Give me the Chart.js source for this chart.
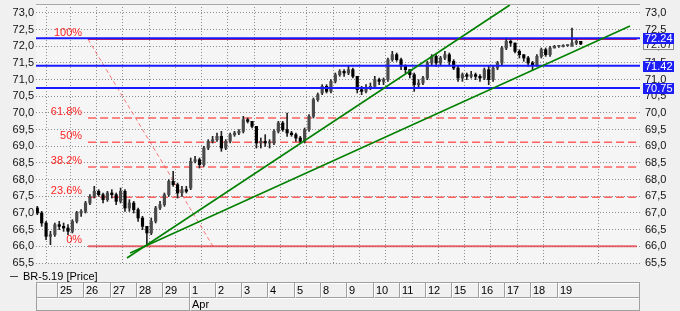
<!DOCTYPE html>
<html lang="en">
<head>
<meta charset="UTF-8" />
<title>BR-5.19</title>
<script src="https://cdn.jsdelivr.net/npm/chart.js"></script>
<style>
  html, body { margin: 0; padding: 0; background: #f0f0f0; }
  #wrap { width: 680px; height: 311px; position: relative; }
</style>
</head>
<body>
<div id="wrap"><canvas id="chart"></canvas></div>
<script>
const seriesName = "BR-5.19 [Price]";
const dayLabels = ["25", "26", "27", "28", "29", "1", "2", "3", "4", "5", "8", "9", "10", "11", "12", "15", "16", "17", "18", "19"];
const monthLabels = ["Apr"];
const monthStart = [5];
const yTicks = [65.5, 66, 66.5, 67, 67.5, 68, 68.5, 69, 69.5, 70, 70.5, 71, 71.5, 72, 72.5, 73];

// bars, 6 per day, first 5 belong to the partly shown day before the 25th
const open = [
  67.15, 67.0, 66.7, 66.3, 66.35,
  66.65, 66.6, 66.55, 66.45, 66.75, 67.0,
  67.05, 67.3, 67.5, 67.65, 67.55, 67.4,
  67.6, 67.55, 67.35, 67.65, 67.15, 67.3,
  67.1, 66.85, 66.6, 66.4, 66.75, 67.15,
  67.25, 67.55, 67.95, 67.85, 67.6, 67.7,
  67.75, 68.55, 68.6, 68.45, 68.95, 69.15,
  69.2, 69.3, 68.95, 69.15, 69.35, 69.4,
  69.45, 69.8, 69.75, 69.6, 69.1, 69.15,
  69.1, 69.1, 69.45, 69.7, 69.5, 69.4,
  69.35, 69.25, 69.15, 69.5, 69.9, 70.4,
  70.6, 70.8, 70.65, 70.95, 71.15, 71.25,
  71.2, 71.3, 71.1, 70.7, 70.65, 70.75,
  70.8, 71.0, 70.95, 71.0, 71.6, 71.75,
  71.6, 71.4, 71.3, 71.15, 70.85, 70.9,
  71.05, 71.5, 71.7, 71.5, 71.65, 71.75,
  71.55, 71.35, 71.05, 71.15, 71.1, 71.15,
  71.1, 71.05, 71.3, 71.0, 71.35, 71.5,
  71.95, 72.15, 72.1, 71.85, 71.75, 71.65,
  71.5, 71.45, 71.7, 71.9, 71.75, 71.95,
  72.0, 72.0, 72.02, 72.02, 72.1, 72.15
];
const high = [
  67.2, 67.05, 66.75, 66.45, 66.7,
  66.75, 66.7, 66.65, 66.8, 67.05, 67.1,
  67.35, 67.55, 67.8, 67.7, 67.6, 67.65,
  67.7, 67.6, 67.75, 67.7, 67.4, 67.35,
  67.15, 66.9, 66.6, 66.85, 67.2, 67.35,
  67.6, 68.0, 68.25, 67.9, 67.8, 67.8,
  68.65, 68.7, 68.65, 69.0, 69.2, 69.3,
  69.4, 69.45, 69.2, 69.4, 69.45, 69.5,
  69.9, 69.85, 69.75, 69.6, 69.25, 69.35,
  69.2, 69.5, 69.75, 69.75, 70.0, 69.45,
  69.4, 69.3, 69.55, 69.95, 70.45, 70.6,
  70.85, 70.85, 71.0, 71.2, 71.3, 71.3,
  71.4, 71.35, 71.1, 70.8, 70.85, 70.9,
  71.1, 71.05, 71.05, 71.65, 71.85, 71.8,
  71.65, 71.45, 71.3, 71.2, 71.0, 71.1,
  71.55, 71.75, 71.75, 71.7, 71.85, 71.8,
  71.6, 71.4, 71.2, 71.2, 71.25, 71.2,
  71.15, 71.35, 71.4, 71.4, 71.55, 72.0,
  72.25, 72.2, 72.1, 71.9, 71.75, 71.7,
  71.55, 71.75, 71.95, 71.95, 72.0, 72.03,
  72.03, 72.05, 72.05, 72.55, 72.2, 72.15
];
const low = [
  66.95, 66.6, 66.2, 66.05, 66.3,
  66.5, 66.45, 66.35, 66.4, 66.7, 66.9,
  67.0, 67.25, 67.45, 67.5, 67.3, 67.35,
  67.45, 67.25, 67.3, 67.05, 67.05, 67.0,
  66.75, 66.5, 66.02, 66.35, 66.7, 67.1,
  67.2, 67.5, 67.8, 67.45, 67.5, 67.6,
  67.7, 68.5, 68.35, 68.4, 68.9, 69.1,
  69.15, 68.85, 68.9, 69.1, 69.3, 69.35,
  69.4, 69.7, 69.55, 68.95, 68.95, 69.0,
  68.95, 69.05, 69.4, 69.45, 69.3, 69.3,
  69.15, 69.1, 69.1, 69.45, 69.85, 70.35,
  70.55, 70.6, 70.6, 70.9, 71.1, 71.1,
  71.15, 71.05, 70.6, 70.55, 70.6, 70.7,
  70.75, 70.85, 70.85, 70.95, 71.55, 71.55,
  71.3, 71.2, 71.05, 70.65, 70.75, 70.85,
  71.0, 71.45, 71.4, 71.45, 71.6, 71.45,
  71.3, 70.95, 70.95, 71.0, 71.05, 71.0,
  70.95, 71.0, 70.85, 70.95, 71.3, 71.45,
  71.9, 72.0, 71.8, 71.65, 71.55, 71.4,
  71.3, 71.4, 71.65, 71.7, 71.7, 71.95,
  71.97, 71.98, 72.0, 72.0, 72.05, 72.05
];
const close = [
  67.0, 66.7, 66.3, 66.35, 66.65,
  66.6, 66.55, 66.45, 66.75, 67.0, 67.05,
  67.3, 67.5, 67.65, 67.55, 67.4, 67.6,
  67.55, 67.35, 67.65, 67.15, 67.3, 67.1,
  66.85, 66.6, 66.4, 66.75, 67.15, 67.25,
  67.55, 67.95, 67.85, 67.6, 67.7, 67.65,
  68.55, 68.6, 68.45, 68.95, 69.15, 69.2,
  69.3, 68.95, 69.15, 69.35, 69.4, 69.45,
  69.8, 69.75, 69.6, 69.1, 69.15, 69.1,
  69.1, 69.45, 69.7, 69.5, 69.4, 69.35,
  69.25, 69.15, 69.5, 69.9, 70.4, 70.55,
  70.8, 70.65, 70.95, 71.15, 71.25, 71.2,
  71.3, 71.1, 70.7, 70.65, 70.75, 70.8,
  71.0, 70.95, 71.0, 71.6, 71.75, 71.6,
  71.4, 71.3, 71.15, 70.85, 70.9, 71.05,
  71.5, 71.7, 71.5, 71.65, 71.75, 71.55,
  71.35, 71.05, 71.15, 71.1, 71.15, 71.1,
  71.05, 71.3, 71.0, 71.35, 71.5, 71.95,
  72.15, 72.1, 71.85, 71.75, 71.65, 71.5,
  71.45, 71.7, 71.9, 71.75, 71.95, 72.0,
  72.0, 72.02, 72.02, 72.1, 72.15, 72.07
];

const fibLabels = ["100%", "61.8%", "50%", "38.2%", "23.6%", "0%"];
const fibLevels = [72.21, 69.85, 69.12, 68.38, 67.47, 66.0];
const levels = [72.24, 71.42, 70.75];
const lastPrice = 72.07;

// drawn objects, [day, price]
const fibSpan = [1.18, 22.05];
const fibDiag = [[1.18, 72.21], [5.93, 66.0]];
const trend1 = [[2.66, 65.65], [17.22, 73.24]];
const trend2 = [[2.78, 65.8], [21.79, 72.61]];

const X_MIN = -0.8, X_MAX = 22.17;
const Y_MIN = 65.5, Y_MAX = 73.27;
const BARS_PER_DAY = 6;
const FONT = { family: '"Liberation Sans", Arial, sans-serif', size: 11 };
const FONT_CSS = '11px "Liberation Sans", Arial, sans-serif';

const xs = close.map((_, i) => (i + 1.5) / BARS_PER_DAY - 1);
const seg = pts => pts.map(([x, y]) => ({ x, y }));

function lineDs(data, color, width, dash, order) {
    return {
        type: "line",
        data: data,
        borderColor: color,
        borderWidth: width,
        borderDash: dash || [],
        pointRadius: 0,
        fill: false,
        tension: 0,
        order: order,
    };
}

const fibStyle = i => {
    if (i === 0) return ["rgb(222,30,60)", 1.5, null];
    if (i === fibLevels.length - 1) return ["rgba(225,55,65,0.75)", 2, null];
    return ["rgba(255,80,80,0.9)", 1.5, [8, 4]];
};

const decor = {
    id: "decor",
    beforeDraw(chart) {
        const { ctx, chartArea: a } = chart;
        ctx.save();
        ctx.fillStyle = "#f5f5f5";
        ctx.fillRect(a.left, a.top, a.right - a.left, a.bottom - a.top);
        ctx.restore();
    },
    afterDraw(chart) {
        const { ctx, chartArea: a, scales } = chart;
        const x = scales.x, y = scales.y;
        ctx.save();
        ctx.font = FONT_CSS;
        ctx.lineWidth = 1;

        // top frame
        ctx.strokeStyle = "#a8a8a8";
        ctx.beginPath();
        ctx.moveTo(a.left, a.top + 0.5);
        ctx.lineTo(a.right, a.top + 0.5);
        ctx.stroke();

        // fibonacci labels
        ctx.fillStyle = "#ff2424";
        ctx.textAlign = "right";
        ctx.textBaseline = "alphabetic";
        const fx = x.getPixelForValue(fibSpan[0]) - 6;
        fibLabels.forEach((t, i) => ctx.fillText(t, fx, y.getPixelForValue(fibLevels[i]) - 3));

        // value boxes on the right axis
        ctx.textAlign = "left";
        ctx.textBaseline = "middle";
        const bx = a.right + 3;
        const py = Math.round(y.getPixelForValue(lastPrice));
        ctx.fillStyle = "#f4f4f4";
        ctx.fillRect(bx, py - 5, 31, 11);
        ctx.strokeStyle = "#8a8a8a";
        ctx.strokeRect(bx + 0.5, py - 4.5, 30, 10);
        ctx.fillStyle = "#222";
        ctx.fillText(lastPrice.toFixed(2), bx + 2, py + 1);
        levels.forEach(v => {
            const ly = Math.round(y.getPixelForValue(v));
            ctx.fillStyle = "#1c1cf5";
            ctx.fillRect(bx, ly - 5, 31, 11);
            ctx.fillStyle = "#fff";
            ctx.fillText(v.toFixed(2), bx + 2, ly + 1);
        });

        // legend
        const gy = a.bottom + 13;
        ctx.strokeStyle = "#444";
        ctx.beginPath();
        ctx.moveTo(10, gy + 0.5);
        ctx.lineTo(18, gy + 0.5);
        ctx.stroke();
        ctx.fillStyle = "#000";
        ctx.fillText(seriesName, 23, gy + 1);

        // date table
        const t0 = a.bottom + 19.5, t1 = t0 + 15, t2 = t1 + 13;
        const hline = (yy, c) => {
            ctx.strokeStyle = c;
            ctx.beginPath(); ctx.moveTo(a.left, yy); ctx.lineTo(a.right, yy); ctx.stroke();
        };
        const vline = (xx, ya, yb, c) => {
            ctx.strokeStyle = c;
            ctx.beginPath(); ctx.moveTo(xx, ya); ctx.lineTo(xx, yb); ctx.stroke();
        };
        hline(t0, "#a0a0a0"); hline(t0 + 1, "#ffffff");
        hline(t1, "#a0a0a0"); hline(t1 + 1, "#ffffff");
        hline(t2, "#a0a0a0");
        vline(Math.round(a.left) + 0.5, t0, t2, "#a0a0a0");
        vline(Math.round(a.right) - 0.5, t0, t2, "#a0a0a0");
        ctx.fillStyle = "#000";
        dayLabels.forEach((t, i) => {
            const px = Math.round(x.getPixelForValue(i)) + 0.5;
            vline(px, t0, t1, "#a0a0a0");
            vline(px + 1, t0 + 1, t1, "#ffffff");
            ctx.fillText(t, px + 2.5, (t0 + t1) / 2 + 1);
        });
        monthLabels.forEach((t, i) => {
            const px = Math.round(x.getPixelForValue(monthStart[i])) + 0.5;
            vline(px, t1, t2, "#a0a0a0");
            vline(px + 1, t1 + 1, t2, "#ffffff");
            ctx.fillText(t, px + 2.5, (t1 + t2) / 2 + 1);
        });
        ctx.restore();
    },
};

const yAxis = (position, width, padding, onArea) => ({
    position: position,
    min: Y_MIN,
    max: Y_MAX,
    afterBuildTicks: s => { s.ticks = yTicks.map(value => ({ value })); },
    afterFit: s => { s.width = width; s.paddingTop = 0; s.paddingBottom = 0; },
    ticks: {
        font: FONT,
        color: "#111",
        padding: padding,
        callback: v => Number(v).toFixed(1).replace(".", ","),
    },
    grid: { color: "#8f8f8f", drawTicks: false, drawOnChartArea: onArea },
    border: { display: false, dash: [1, 2] },
});

new Chart(document.getElementById("chart"), {
    type: "bar",
    data: {
        datasets: [
            lineDs(seg(trend1), "#008000", 1.5, null, 0),
            lineDs(seg(trend2), "#008000", 1.5, null, 0),
            ...levels.map(v => lineDs([{ x: X_MIN, y: v }, { x: X_MAX, y: v }], "#1a1aff", 2, null, 1)),
            {
                type: "bar",
                data: xs.map((x, i) => ({ x, y: [open[i], close[i]] })),
                grouped: false,
                barThickness: 2.5,
                minBarLength: 1,
                borderWidth: 0,
                backgroundColor: c => (c.dataIndex != null && close[c.dataIndex] >= open[c.dataIndex] ? "#4a4a4a" : "#000"),
                order: 2,
            },
            {
                type: "bar",
                data: xs.map((x, i) => ({ x, y: [low[i], high[i]] })),
                grouped: false,
                barThickness: 1,
                borderWidth: 0,
                backgroundColor: "#222",
                order: 3,
            },
            ...fibLevels.map((v, i) => {
                const [c, w, d] = fibStyle(i);
                return lineDs([{ x: fibSpan[0], y: v }, { x: fibSpan[1], y: v }], c, w, d, 4);
            }),
            lineDs(seg(fibDiag), "rgba(255,60,60,0.7)", 1, [4, 3], 4),
        ],
    },
    options: {
        responsive: true,
        maintainAspectRatio: false,
        animation: false,
        layout: { padding: { top: 4 } },
        plugins: { legend: { display: false }, tooltip: { enabled: false } },
        scales: {
            x: {
                type: "linear",
                min: X_MIN,
                max: X_MAX,
                offset: false,
                afterBuildTicks: s => {
                    s.ticks = [X_MIN, ...dayLabels.map((_, i) => i), X_MAX].map(value => ({ value }));
                },
                afterFit: s => { s.height = 48; s.paddingLeft = 0; s.paddingRight = 0; },
                ticks: { display: false },
                grid: { color: "#8f8f8f", drawTicks: false },
                border: { display: false, dash: [1, 2] },
            },
            y: yAxis("left", 36, 2, true),
            y2: yAxis("right", 40, 5, false),
        },
    },
    plugins: [decor],
});
</script>
</body>
</html>
